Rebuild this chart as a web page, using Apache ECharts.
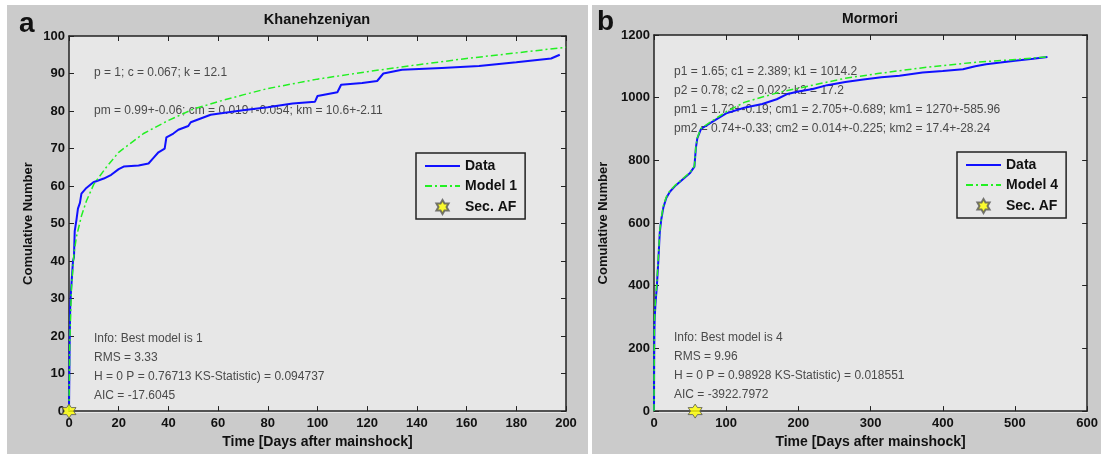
<!DOCTYPE html>
<html>
<head>
<meta charset="utf-8">
<script src="https://cdn.jsdelivr.net/npm/echarts@6/dist/echarts.min.js"></script>
<style>
html, body { margin: 0; padding: 0; background: #fff; }
#chart { width: 1101px; height: 454px; }
</style>
</head>
<body>
<div id="chart"></div>
<script>
// Khanehzeniyan: observed cumulative count [day, number]
const khanData = [
  [0, 0], [0.3, 20], [0.5, 28], [0.8, 32], [1.2, 36], [1.6, 40], [2, 41], [2.3, 48],
  [3, 51], [3.6, 54], [4.4, 55.5], [5, 58], [7, 59.5], [9.8, 61], [14, 62], [17, 63],
  [20, 64.5], [22, 65.2], [28, 65.5], [32, 66], [34, 67.5], [36, 69], [38.5, 70],
  [39.2, 73], [42, 74], [44, 75], [48, 76], [49, 77], [53, 78], [57, 79], [62, 79.5],
  [70, 80.2], [80, 81], [90, 82], [99, 82.5], [100, 84], [108, 85], [109.5, 87],
  [118, 87.5], [124, 88], [126.5, 90], [134, 91], [150, 91.5], [165, 92], [180, 93],
  [194, 94], [197.5, 95]
];
// Khanehzeniyan: Model 1
const khanModel = [
  [0, 0], [0.3, 18], [1, 33], [2, 42], [3, 46.5], [5, 52], [7, 56], [10, 60.5],
  [15, 65], [20, 69], [30, 74], [40, 77.5], [50, 80.5], [60, 82.5], [70, 84.3],
  [80, 86], [100, 88.5], [120, 90.5], [140, 92.3], [160, 94], [180, 95.5], [200, 97]
];
const khanSecAF = [[0, 0]];

// Mormori: observed cumulative count
const morData = [
  [0, 0], [0.2, 150], [0.5, 250], [1, 300], [2, 340], [4, 400], [6, 480], [8, 570],
  [10, 610], [13, 650], [17, 680], [22, 700], [30, 720], [40, 740], [50, 760],
  [56, 780], [58, 840], [60, 870], [65, 900], [80, 922], [100, 950], [125, 968],
  [150, 980], [170, 995], [185, 1012], [200, 1020], [220, 1028], [240, 1040],
  [265, 1050], [290, 1058], [315, 1065], [340, 1070], [372, 1080], [400, 1085],
  [428, 1091], [445, 1100], [460, 1107], [480, 1112], [500, 1118], [525, 1124], [545, 1130]
];
// Mormori: Model 4
const morModel = [
  [0, 0], [0.5, 260], [1, 310], [2, 350], [4, 410], [6, 490], [8, 575], [10, 615],
  [13, 655], [17, 683], [22, 703], [30, 722], [40, 742], [50, 762], [56, 782],
  [58, 842], [60, 872], [65, 902], [80, 925], [100, 955], [125, 985], [150, 1002],
  [175, 1018], [200, 1030], [220, 1040], [265, 1062], [310, 1077], [370, 1095],
  [440, 1112], [490, 1120], [545, 1130]
];
const morSecAF = [[57, 0]];

const khanNotesTop = ['p = 1; c = 0.067; k = 12.1', '', 'pm = 0.99+-0.06; cm = 0.019+-0.054; km = 10.6+-2.11'];
const khanNotesBottom = ['Info: Best model is 1', 'RMS = 3.33', 'H = 0 P = 0.76713 KS-Statistic) = 0.094737', 'AIC = -17.6045'];
const morNotesTop = ['p1 = 1.65; c1 = 2.389; k1 = 1014.2', 'p2 = 0.78; c2 = 0.022; k2 = 17.2',
  'pm1 = 1.73+-0.19; cm1 = 2.705+-0.689; km1 = 1270+-585.96', 'pm2 = 0.74+-0.33; cm2 = 0.014+-0.225; km2 = 17.4+-28.24'];
const morNotesBottom = ['Info: Best model is 4', 'RMS = 9.96', 'H = 0 P = 0.98928 KS-Statistic) = 0.018551', 'AIC = -3922.7972'];

const FONT = 'Arial, "Liberation Sans", sans-serif';
const STAR = 'path://M0,-10 L2.89,-5 L8.66,-5 L5.77,0 L8.66,5 L2.89,5 L0,10 L-2.89,5 L-8.66,5 L-5.77,0 L-8.66,-5 L-2.89,-5 Z';
const BLUE = '#1010ff';
const GREEN = '#22f022';

const chart = echarts.init(document.getElementById('chart'));

function noteTexts(lines, x, y0, step) {
  const out = [];
  lines.forEach(function (s, i) {
    if (s === '') return;
    out.push({
      type: 'text', z: 1,
      style: {
        text: s, x: x, y: y0 + i * step, fill: '#4a4a4a',
        font: '12px ' + FONT, verticalAlign: 'middle', textVerticalAlign: 'middle'
      }
    });
  });
  return out;
}

function label(s, x, y, size, align) {
  return {
    type: 'text', z: 1,
    style: {
      text: s, x: x, y: y, fill: '#111', font: 'bold ' + size + 'px ' + FONT,
      align: align, textAlign: align, verticalAlign: 'middle', textVerticalAlign: 'middle'
    }
  };
}

function axesX(grid, max, interval, name) {
  return [
    {
      gridIndex: grid, type: 'value', min: 0, max: max, interval: interval,
      name: name, nameLocation: 'middle', nameGap: 22,
      nameTextStyle: { fontFamily: FONT, fontWeight: 'bold', fontSize: 14, color: '#111' },
      axisLine: { onZero: false, lineStyle: { color: '#222', width: 1.5 } },
      axisTick: { inside: true, length: 5, lineStyle: { color: '#222' } },
      axisLabel: { margin: 6, fontFamily: FONT, fontWeight: 'bold', fontSize: 13, color: '#111', formatter: '{value}' },
      splitLine: { show: false }
    },
    {
      gridIndex: grid, type: 'value', position: 'top', min: 0, max: max, interval: interval,
      axisLine: { onZero: false, lineStyle: { color: '#222', width: 1.5 } },
      axisTick: { inside: true, length: 5, lineStyle: { color: '#222' } },
      axisLabel: { show: false }, splitLine: { show: false }
    }
  ];
}

function axesY(grid, max, interval, gap) {
  return [
    {
      gridIndex: grid, type: 'value', min: 0, max: max, interval: interval,
      name: 'Comulative Number', nameLocation: 'middle', nameGap: gap,
      nameTextStyle: { fontFamily: FONT, fontWeight: 'bold', fontSize: 13, color: '#111' },
      axisLine: { show: true, onZero: false, lineStyle: { color: '#222', width: 1.5 } },
      axisTick: { show: true, inside: true, length: 5, lineStyle: { color: '#222' } },
      axisLabel: {
        margin: 4, fontFamily: FONT, fontWeight: 'bold', fontSize: 13, color: '#111',
        formatter: function (v) { return String(v); }
      },
      splitLine: { show: false }
    },
    {
      gridIndex: grid, type: 'value', position: 'right', min: 0, max: max, interval: interval,
      axisLine: { show: true, onZero: false, lineStyle: { color: '#222', width: 1.5 } },
      axisTick: { show: true, inside: true, length: 5, lineStyle: { color: '#222' } },
      axisLabel: { show: false }, splitLine: { show: false }
    }
  ];
}

// line entries get no marker in the legend, only the line sample
function legendBox(left, top, model) {
  return {
    left: left, top: top, orient: 'vertical',
    data: [
      { name: 'Data', itemStyle: { opacity: 0 } },
      { name: model, itemStyle: { opacity: 0 } },
      { name: 'Sec. AF' }
    ],
    itemWidth: 35, itemHeight: 14, itemGap: 6,
    padding: [6, 8, 4, 8],
    backgroundColor: '#e7e7e7', borderColor: '#222', borderWidth: 1.5,
    selectedMode: false,
    textStyle: { fontFamily: FONT, fontWeight: 'bold', fontSize: 14, color: '#111' }
  };
}

function lineSeries(name, data, xi, yi, color, width, type) {
  return {
    name: name, type: 'line', xAxisIndex: xi, yAxisIndex: yi, data: data,
    symbol: 'none', animation: false,
    lineStyle: { color: color, width: width, type: type },
    itemStyle: { color: color }
  };
}

function starSeries(data, xi, yi) {
  return {
    name: 'Sec. AF', type: 'scatter', xAxisIndex: xi, yAxisIndex: yi, data: data,
    symbol: STAR, symbolSize: 14, clip: false, z: 5, animation: false,
    itemStyle: { color: '#ffff00', borderColor: '#555', borderWidth: 1 }
  };
}

chart.setOption({
  backgroundColor: '#ffffff',
  graphic: [
    { type: 'rect', z: -10, shape: { x: 7, y: 5, width: 581, height: 449 }, style: { fill: '#cbcbcb' } },
    { type: 'rect', z: -10, shape: { x: 592, y: 5, width: 509, height: 449 }, style: { fill: '#cbcbcb' } },
    { type: 'rect', z: -9, shape: { x: 69, y: 36, width: 497, height: 377 }, style: { fill: '#e7e7e7' } },
    { type: 'rect', z: -9, shape: { x: 654, y: 35, width: 434, height: 378 }, style: { fill: '#e7e7e7' } },
    label('a', 19, 24, 28, 'left'),
    label('b', 597, 22, 28, 'left'),
    label('Khanehzeniyan', 317, 20, 14.5, 'center'),
    label('Mormori', 870, 19, 14, 'center')
  ].concat(
    noteTexts(khanNotesTop, 94, 73, 19),
    noteTexts(khanNotesBottom, 94, 339, 19),
    noteTexts(morNotesTop, 674, 72, 19),
    noteTexts(morNotesBottom, 674, 338, 19)
  ),
  grid: [
    { left: 69, top: 36, width: 497, height: 377 },
    { left: 654, top: 35, width: 434, height: 378 }
  ],
  xAxis: axesX(0, 200, 20, 'Time [Days after mainshock]').concat(axesX(1, 600, 100, 'Time [Days after mainshock]')),
  yAxis: axesY(0, 100, 10, 34).concat(axesY(1, 1200, 200, 44)),
  legend: [legendBox(416, 153, 'Model 1'), legendBox(957, 152, 'Model 4')],
  series: [
    lineSeries('Data', khanData, 0, 0, BLUE, 2, 'solid'),
    lineSeries('Model 1', khanModel, 0, 0, GREEN, 1.5, [7, 3, 2, 3]),
    starSeries(khanSecAF, 0, 0),
    lineSeries('Data', morData, 2, 2, BLUE, 2, 'solid'),
    lineSeries('Model 4', morModel, 2, 2, GREEN, 1.5, [7, 3, 2, 3]),
    starSeries(morSecAF, 2, 2)
  ]
});
</script>
</body>
</html>
